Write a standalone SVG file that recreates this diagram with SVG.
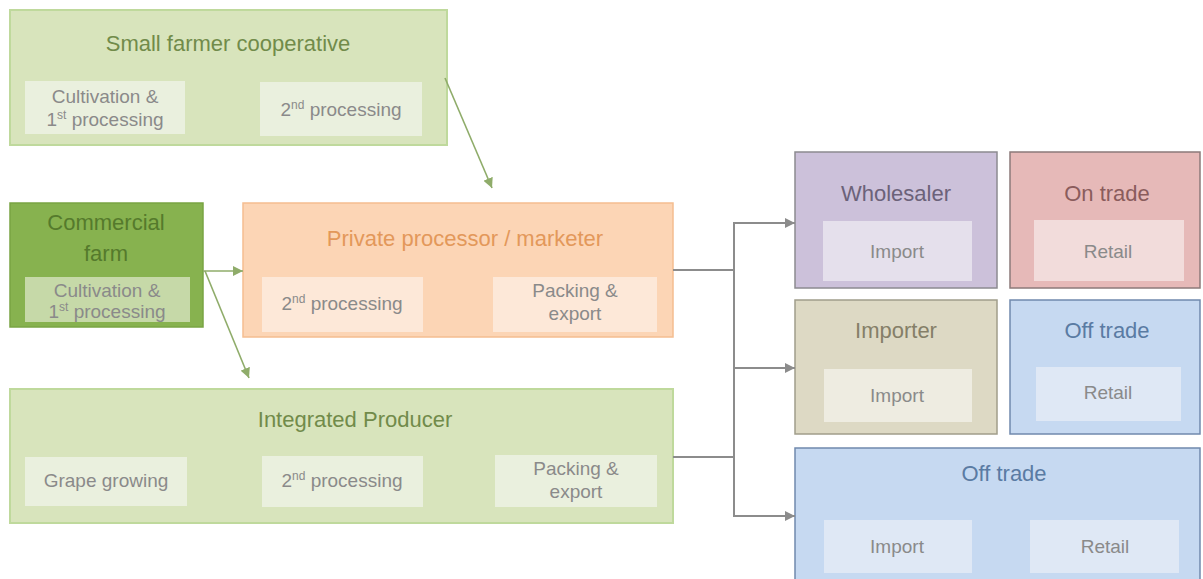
<svg xmlns="http://www.w3.org/2000/svg" width="1203" height="579" viewBox="0 0 1203 579">
<style>
text{font-family:"Liberation Sans",Arial,sans-serif;text-anchor:middle}
.t{font-size:22px}
.i{font-size:19px;fill:#8a8a8a}
.sup{font-size:12px}
.g1{fill:#d8e4bc;stroke:#bfd99c;stroke-width:2}
.g1i{fill:#eaf0de}
.tg{fill:#718b4a}
.cf{fill:#87b24f;stroke:#79a443;stroke-width:1.5}
.cfi{fill:#c6d9a8}
.pp{fill:#fcd5b5;stroke:#f5bd90;stroke-width:1.5}
.ppi{fill:#fde8d8}
.wh{fill:#ccc1da;stroke:#8c8a90;stroke-width:1.5}
.whi{fill:#e5e0ec}
.ot{fill:#e6b9b8;stroke:#8c7a7a;stroke-width:1.5}
.oti{fill:#f2dcdb}
.im{fill:#ddd9c4;stroke:#a09d8a;stroke-width:1.5}
.imi{fill:#eeece1}
.of{fill:#c6d9f1;stroke:#7089ad;stroke-width:1.5}
.ofi{fill:#dfe8f5}
.gc{stroke:#8c8c8c;stroke-width:2;fill:none}
.ga{stroke:#8fac6a;stroke-width:1.6;fill:none}
</style>
<defs>
<marker id="ag" viewBox="0 0 10 10" refX="10" refY="5" markerWidth="10" markerHeight="10" markerUnits="userSpaceOnUse" orient="auto">
<path d="M0,0 L10,5 L0,10 z" fill="#8c8c8c"/>
</marker>
<marker id="agr" viewBox="0 0 10 10" refX="10" refY="5" markerWidth="10" markerHeight="10" markerUnits="userSpaceOnUse" orient="auto">
<path d="M0,0 L10,5 L0,10 z" fill="#8fac6a"/>
</marker>
</defs>

<g id="coop">
<rect class="g1" x="10" y="10" width="437" height="135"/>
<text class="t tg" x="228" y="51">Small farmer cooperative</text>
<rect class="g1i" x="25" y="81" width="160" height="53"/>
<text class="i" x="105" y="103">Cultivation &amp;</text>
<text class="i" x="105" y="126">1<tspan class="sup" dy="-7">st</tspan><tspan dy="7"> processing</tspan></text>
<rect class="g1i" x="260" y="82" width="162" height="54"/>
<text class="i" x="341" y="116">2<tspan class="sup" dy="-7">nd</tspan><tspan dy="7"> processing</tspan></text>
</g>

<g id="commercial">
<rect class="cf" x="10" y="203" width="193" height="124"/>
<text class="t" fill="#557a2c" x="106" y="230">Commercial</text>
<text class="t" fill="#557a2c" x="106" y="261">farm</text>
<rect class="cfi" x="25" y="277" width="165" height="45"/>
<text class="i" x="107" y="297">Cultivation &amp;</text>
<text class="i" x="107" y="318">1<tspan class="sup" dy="-7">st</tspan><tspan dy="7"> processing</tspan></text>
</g>

<g id="private">
<rect class="pp" x="243" y="203" width="430" height="134"/>
<text class="t" fill="#e3985a" x="465" y="246">Private processor / marketer</text>
<rect class="ppi" x="262" y="277" width="161" height="55"/>
<text class="i" x="342" y="310">2<tspan class="sup" dy="-7">nd</tspan><tspan dy="7"> processing</tspan></text>
<rect class="ppi" x="493" y="277" width="164" height="55"/>
<text class="i" x="575" y="297">Packing &amp;</text>
<text class="i" x="575" y="320">export</text>
</g>

<g id="integrated">
<rect class="g1" x="10" y="389" width="663" height="134"/>
<text class="t tg" x="355" y="427">Integrated Producer</text>
<rect class="g1i" x="25" y="457" width="162" height="49"/>
<text class="i" x="106" y="487">Grape growing</text>
<rect class="g1i" x="262" y="456" width="161" height="51"/>
<text class="i" x="342" y="487">2<tspan class="sup" dy="-7">nd</tspan><tspan dy="7"> processing</tspan></text>
<rect class="g1i" x="495" y="455" width="162" height="52"/>
<text class="i" x="576" y="475">Packing &amp;</text>
<text class="i" x="576" y="498">export</text>
</g>

<g id="wholesaler">
<rect class="wh" x="795" y="152" width="202" height="136"/>
<text class="t" fill="#6b6279" x="896" y="201">Wholesaler</text>
<rect class="whi" x="823" y="221" width="149" height="60"/>
<text class="i" x="897" y="258">Import</text>
</g>

<g id="ontrade">
<rect class="ot" x="1010" y="152" width="190" height="136"/>
<text class="t" fill="#8a5c5c" x="1107" y="201">On trade</text>
<rect class="oti" x="1034" y="220" width="150" height="61"/>
<text class="i" x="1108" y="258">Retail</text>
</g>

<g id="importer">
<rect class="im" x="795" y="300" width="202" height="134"/>
<text class="t" fill="#857f68" x="896" y="338">Importer</text>
<rect class="imi" x="824" y="369" width="148" height="53"/>
<text class="i" x="897" y="402">Import</text>
</g>

<g id="offtrade1">
<rect class="of" x="1010" y="300" width="190" height="134"/>
<text class="t" fill="#5a7ba3" x="1107" y="338">Off trade</text>
<rect class="ofi" x="1036" y="367" width="145" height="54"/>
<text class="i" x="1108" y="399">Retail</text>
</g>

<g id="offtrade2">
<rect class="of" x="795" y="448" width="405" height="140"/>
<text class="t" fill="#5a7ba3" x="1004" y="481">Off trade</text>
<rect class="ofi" x="824" y="520" width="148" height="53"/>
<text class="i" x="897" y="553">Import</text>
<rect class="ofi" x="1030" y="520" width="149" height="53"/>
<text class="i" x="1105" y="553">Retail</text>
</g>

<g id="connectors">
<path class="ga" d="M445,78 L492,188" marker-end="url(#agr)"/>
<path class="ga" d="M203,271 H243" marker-end="url(#agr)"/>
<path class="ga" d="M205,271 L249,378" marker-end="url(#agr)"/>
<path class="gc" d="M673,270 H734"/>
<path class="gc" d="M673,457 H734"/>
<path class="gc" d="M734,223 V516"/>
<path class="gc" d="M733,223 H795" marker-end="url(#ag)"/>
<path class="gc" d="M734,368 H795" marker-end="url(#ag)"/>
<path class="gc" d="M733,516 H795" marker-end="url(#ag)"/>
</g>
</svg>
